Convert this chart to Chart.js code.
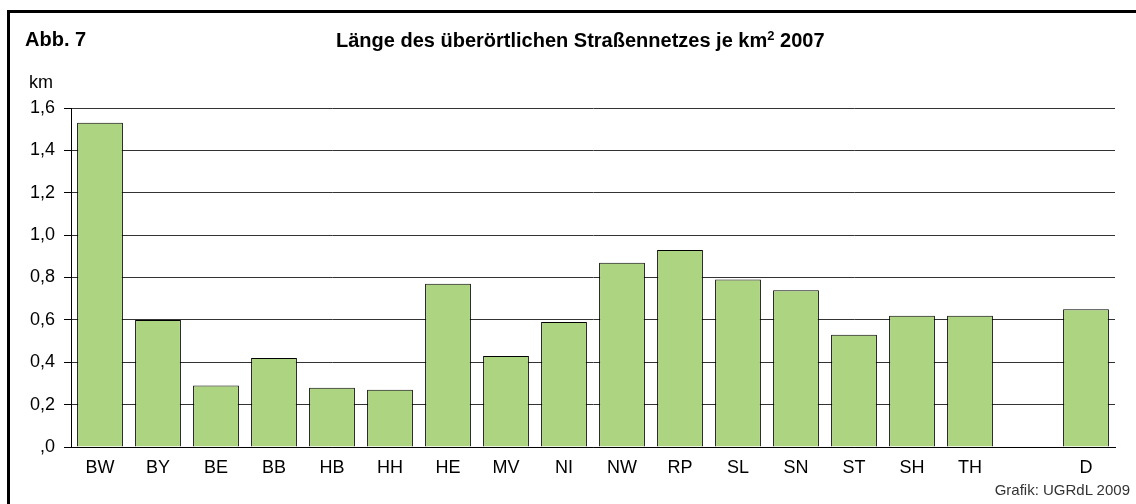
<!DOCTYPE html>
<html>
<head>
<meta charset="utf-8">
<script src="https://cdn.jsdelivr.net/npm/chart.js@4"></script>
<style>
  body { margin: 0; width: 1136px; height: 504px; overflow: hidden; background: #fff; font-family: "Liberation Sans", Arial, sans-serif; position: relative; }
  #frame { position: absolute; left: 7px; top: 10px; width: 1300px; height: 700px; border-left: 3px solid #000; border-top: 3px solid #000; }
  #wrap { position: absolute; left: 0; top: 0; width: 1136px; height: 504px; }
  .txt { position: absolute; white-space: nowrap; color: #000; }
  #abb { left: 25px; top: 28px; font-size: 20px; font-weight: bold; }
  #title { left: 336px; top: 28px; font-size: 20px; font-weight: bold; }
  #title sup { font-size: 13px; vertical-align: 7px; }
  #km { left: 29px; top: 72px; font-size: 18px; }
  #src { right: 6px; top: 481px; font-size: 15px; color: #333; }
</style>
</head>
<body>
<div id="frame"></div>
<div id="wrap"><canvas id="barChart" width="1136" height="504"></canvas></div>
<div class="txt" id="abb">Abb. 7</div>
<div class="txt" id="title">Länge des überörtlichen Straßennetzes je km<sup>2</sup> 2007</div>
<div class="txt" id="km">km</div>
<div class="txt" id="src">Grafik: UGRdL 2009</div>
<script>
// Bundesländer, Lücke, Deutschland
let categories = ["BW", "BY", "BE", "BB", "HB", "HH", "HE", "MV", "NI", "NW", "RP", "SL", "SN", "ST", "SH", "TH", "", "D"];
let roadKm = [1.53, 0.60, 0.29, 0.42, 0.28, 0.27, 0.77, 0.43, 0.59, 0.87, 0.93, 0.79, 0.74, 0.53, 0.62, 0.62, null, 0.65];
let yTickLabels = [",0", "0,2", "0,4", "0,6", "0,8", "1,0", "1,2", "1,4", "1,6"];

Chart.defaults.font.family = "'Liberation Sans', Arial, sans-serif";
Chart.defaults.color = "#000";

let ctx = document.getElementById("barChart").getContext("2d");
let barChart = new Chart(ctx, {
  type: "bar",
  data: {
    labels: categories,
    datasets: [{
      label: "km je km²",
      data: roadKm,
      backgroundColor: "#add480",
      borderColor: "#000",
      borderWidth: 1,
      categoryPercentage: 1.0,
      barPercentage: 0.79
    }]
  },
  options: {
    responsive: false,
    animation: false,
    layout: { padding: { left: 0, right: 21, top: 108, bottom: 17 } },
    plugins: {
      legend: { display: false },
      tooltip: { enabled: false }
    },
    scales: {
      x: {
        grid: { display: false },
        border: { display: true, color: "#000", width: 1 },
        ticks: { font: { size: 18 }, padding: 2, maxRotation: 0, autoSkip: false },
        afterFit: s => { s.height = 40; }
      },
      y: {
        min: 0,
        max: 1.6,
        ticks: {
          stepSize: 0.2,
          font: { size: 18 },
          padding: 9,
          callback: (v, i) => yTickLabels[i]
        },
        grid: { color: "#333", lineWidth: 1, tickLength: 7, tickColor: "#000" },
        border: { display: true, color: "#000", width: 1 },
        afterFit: s => { s.width = 71; }
      }
    }
  }
});
</script>
</body>
</html>
